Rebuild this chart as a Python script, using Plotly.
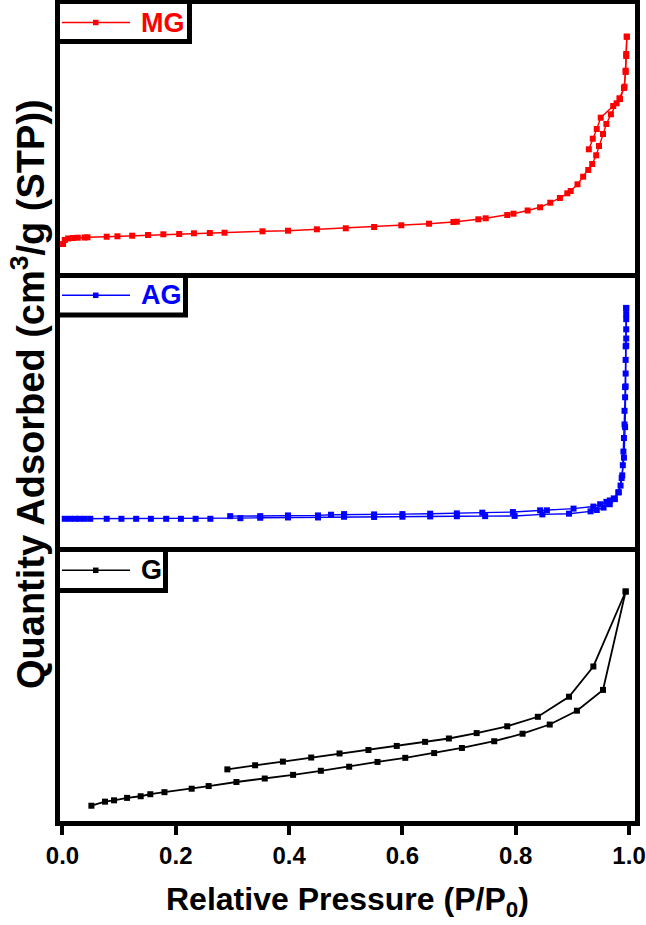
import plotly.graph_objects as go
from plotly.subplots import make_subplots

# ---------------- data: relative pressure P/P0 and quantity adsorbed (arbitrary units) ----------------
mg_ads_p = [0.001, 0.004, 0.010, 0.018, 0.027, 0.039, 0.044, 0.078, 0.097, 0.123, 0.151, 0.178,
            0.206, 0.232, 0.260, 0.286, 0.353, 0.398, 0.449, 0.500, 0.550, 0.598, 0.647, 0.690,
            0.696, 0.734, 0.747, 0.785, 0.796, 0.821, 0.843, 0.861, 0.878, 0.891, 0.897, 0.909,
            0.919, 0.928, 0.935, 0.942, 0.947, 0.954, 0.960, 0.968, 0.978, 0.983, 0.992, 0.994,
            0.995, 0.996]
mg_ads_q = [31.7, 35.7, 37.2, 37.7, 38.0, 38.2, 38.4, 39.0, 39.4, 40.0, 40.7, 41.4,
            41.7, 42.4, 42.7, 43.0, 44.4, 45.0, 46.4, 47.4, 48.7, 50.4, 52.0, 53.7,
            54.0, 56.4, 57.4, 60.7, 62.0, 65.2, 68.4, 73.0, 77.7, 82.4, 84.7, 91.4,
            99.0, 105.7, 111.7, 120.4, 129.7, 141.7, 151.7, 161.4, 172.4, 177.4, 189.0, 205.0,
            221.7, 239.0]
mg_des_p = [0.996, 0.995, 0.994, 0.991, 0.984, 0.972, 0.950, 0.943, 0.936, 0.929]
mg_des_q = [239.0, 219.7, 203.7, 187.7, 176.7, 169.7, 158.0, 146.7, 137.0, 126.4]

ag_ads_p = [0.004, 0.013, 0.022, 0.030, 0.039, 0.049, 0.078, 0.104, 0.130, 0.156, 0.183, 0.209,
            0.235, 0.261, 0.314, 0.349, 0.398, 0.451, 0.497, 0.550, 0.600, 0.649, 0.696, 0.746,
            0.798, 0.847, 0.894, 0.932, 0.943, 0.955, 0.966, 0.975, 0.982, 0.985, 0.988, 0.989,
            0.990, 0.991, 0.992, 0.992, 0.993, 0.993, 0.994, 0.994, 0.994, 0.995, 0.995, 0.995,
            0.995, 0.995]
ag_ads_q = [30.0, 30.0, 30.0, 30.0, 30.0, 30.0, 30.0, 30.0, 30.0, 30.0, 30.0, 30.0,
            30.0, 30.0, 30.6, 31.0, 31.3, 31.3, 32.0, 31.8, 32.0, 32.3, 32.5, 32.6,
            32.8, 34.3, 35.0, 37.3, 38.6, 41.0, 44.3, 49.3, 56.0, 62.6, 72.6, 82.6,
            96.0, 109.3, 122.6, 136.0, 149.3, 159.3, 172.6, 186.0, 199.3, 207.0, 216.0, 226.0,
            231.0, 237.0]
ag_des_p = [0.995, 0.995, 0.994, 0.993, 0.991, 0.987, 0.981, 0.973, 0.966, 0.960, 0.949, 0.937,
            0.902, 0.855, 0.843, 0.795, 0.741, 0.696, 0.649, 0.600, 0.550, 0.497, 0.474, 0.451,
            0.398, 0.349, 0.296]
ag_des_q = [237.0, 200.0, 160.0, 120.0, 90.0, 70.0, 56.0, 50.0, 48.0, 46.6, 44.3, 42.0,
            40.0, 38.3, 38.3, 36.6, 36.0, 35.3, 35.0, 34.6, 34.3, 34.6, 34.0, 33.3,
            33.3, 32.6, 32.6]

g_ads_p = [0.051, 0.075, 0.091, 0.114, 0.138, 0.155, 0.180, 0.228, 0.258, 0.307, 0.357, 0.407,
           0.456, 0.506, 0.556, 0.605, 0.656, 0.705, 0.762, 0.812, 0.860, 0.908, 0.954, 0.994]
g_ads_q = [17.0, 21.0, 22.3, 24.7, 26.3, 28.3, 30.3, 33.7, 36.3, 40.3, 43.7, 47.3,
           51.3, 55.3, 60.0, 64.0, 68.7, 73.7, 80.3, 87.7, 96.7, 110.3, 130.7, 227.3]
g_des_p = [0.994, 0.937, 0.894, 0.839, 0.785, 0.731, 0.682, 0.640, 0.590, 0.540, 0.489, 0.439,
           0.389, 0.340, 0.291]
g_des_q = [227.3, 153.7, 124.0, 104.3, 95.0, 88.3, 83.0, 79.7, 75.7, 71.7, 68.3, 64.3,
           60.3, 56.7, 52.7]

samples = ["MG", "AG", "G"]
colors = ["#FF0000", "#0000FF", "#000000"]
x_ticks = [0.0, 0.2, 0.4, 0.6, 0.8, 1.0]
x_tick_labels = ["0.0", "0.2", "0.4", "0.6", "0.8", "1.0"]

FONT = "Liberation Sans, Arial, sans-serif"
W, H = 646, 925
ML, MR, MT, MB = 60, 11, 4, 104
PW, PH = W - ML - MR, H - MT - MB


def px(x):  # pixel -> paper x
    return (x - ML) / PW


def py(y):  # pixel -> paper y
    return (H - MB - y) / PH


fig = make_subplots(rows=3, cols=1, shared_xaxes=True, vertical_spacing=0)

series = [
    (mg_ads_p, mg_ads_q, mg_des_p, mg_des_q),
    (ag_ads_p, ag_ads_q, ag_des_p, ag_des_q),
    (g_ads_p, g_ads_q, g_des_p, g_des_q),
]
line_w = [1.4, 1.4, 1.8]

for i, (ap, aq, dp, dq) in enumerate(series):
    c = colors[i]
    for xs, ys, tag in ((ap, aq, "adsorption"), (dp, dq, "desorption")):
        fig.add_trace(go.Scatter(x=xs, y=ys, mode="lines+markers", name=f"{samples[i]} {tag}",
                                 line=dict(color=c, width=line_w[i]),
                                 marker=dict(symbol="square", size=6, color=c),
                                 showlegend=False),
                      row=i + 1, col=1)

# panel boundaries (pixels 273 and 547)
b1 = py(273)
b2 = py(547)
domains = [[b1, 1.0], [b2, b1], [0.0, b2]]
yranges = [[2.7, 271.7], [2.3, 271.3], [2.0, 271.0]]
xrange_ = [-0.0044, 1.0105]

for i in range(3):
    xa = "xaxis" if i == 0 else f"xaxis{i+1}"
    ya = "yaxis" if i == 0 else f"yaxis{i+1}"
    fig.layout[ya].update(domain=domains[i], range=yranges[i], showline=True, mirror=True,
                          linecolor="black", linewidth=5, showgrid=False, zeroline=False,
                          showticklabels=False, ticks="", automargin=False)
    fig.layout[xa].update(range=xrange_, showline=True, mirror=(i == 0), automargin=False,
                          linecolor="black", linewidth=5, showgrid=False, zeroline=False)
    if i < 2:
        fig.layout[xa].update(showticklabels=False, ticks="")

fig.update_xaxes(row=3, col=1, ticks="outside", ticklen=9, tickwidth=4, tickcolor="black",
                 tickvals=x_ticks, ticktext=x_tick_labels, showticklabels=True,
                 ticklabeloverflow="allow",
                 tickfont=dict(family=FONT, size=24, color="black", weight="bold"))

# ---------------- hand-drawn legend boxes (one per panel) ----------------
legend_boxes = [  # (right edge, top, bottom, line centre y) in pixels
    (189.5, 1.5, 41.5, 22.5),
    (185.5, 275.5, 315.0, 295.3),
    (165.5, 549.5, 590.5, 570.3),
]
shapes = []
for i, (xr, yt, yb, yc) in enumerate(legend_boxes):
    shapes.append(dict(type="rect", xref="paper", yref="paper", x0=px(57.5), x1=px(xr),
                       y0=py(yb), y1=py(yt), fillcolor="white",
                       line=dict(color="black", width=5), layer="above"))
    shapes.append(dict(type="line", xref="paper", yref="paper", x0=px(62), x1=px(130),
                       y0=py(yc), y1=py(yc), line=dict(color=colors[i], width=1.4), layer="above"))
    shapes.append(dict(type="rect", xref="paper", yref="paper", x0=px(93), x1=px(98.5),
                       y0=py(yc + 2.75), y1=py(yc - 2.75), fillcolor=colors[i],
                       line=dict(width=0), layer="above"))
    fig.add_annotation(text=samples[i], xref="paper", yref="paper", x=px(139), y=py(yc),
                       xanchor="left", yanchor="middle", showarrow=False,
                       font=dict(family=FONT, size=27, color=colors[i], weight="bold"))

fig.add_annotation(text="Quantity Adsorbed (cm<sup>3</sup>/g (STP))", xref="paper", yref="paper",
                   x=px(28), y=py(394), xanchor="center", yanchor="middle", textangle=-90,
                   showarrow=False, font=dict(family=FONT, size=38, color="black", weight="bold"))
fig.add_annotation(text="Relative Pressure (P/P<sub>0</sub>)", xref="paper", yref="paper",
                   x=px(347), y=py(901), xanchor="center", yanchor="middle",
                   showarrow=False, font=dict(family=FONT, size=32, color="black", weight="bold"))

fig.update_layout(template="none", width=W, height=H,
                  margin=dict(l=ML, r=MR, t=MT, b=MB, pad=0, autoexpand=False),
                  paper_bgcolor="white", plot_bgcolor="white", shapes=shapes, showlegend=False)

fig.write_html("out.html", config={"displayModeBar": False, "staticPlot": True},
               post_script="document.body.style.margin='0';document.body.style.padding='0';")
